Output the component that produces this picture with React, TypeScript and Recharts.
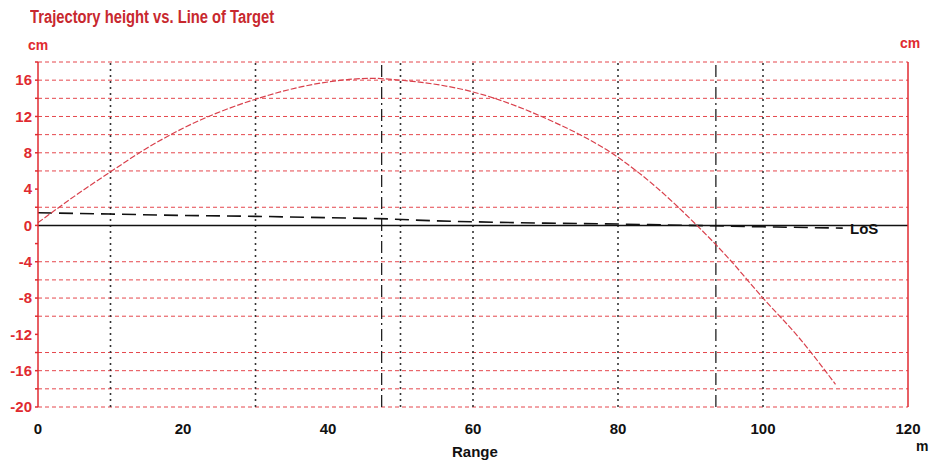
import { ComposedChart, Line, XAxis, YAxis, ReferenceLine } from "recharts";

// trajectory height (cm) against range (m)
const trajRange = [0, 5, 10, 15, 20, 30, 40, 46, 50, 60, 70, 80, 85, 90, 95, 100, 105, 110];
const trajHeight = [0.3, 3.2, 5.9, 8.5, 10.7, 13.9, 15.8, 16.2, 16.0, 14.7, 11.8, 7.5, 4.4, 0.7, -3.4, -8.0, -12.4, -17.5];

// black dashed line just above the line of sight
const dashRange = [0, 10, 20, 30, 40, 47, 55, 60, 70, 80, 90, 100, 111];
const dashHeight = [1.4, 1.25, 1.1, 1.0, 0.85, 0.75, 0.5, 0.4, 0.25, 0.15, 0.0, -0.15, -0.3];

const xTicks = [0, 20, 40, 60, 80, 100, 120];
const yTicks = [-20, -18, -16, -14, -12, -10, -8, -6, -4, -2, 0, 2, 4, 6, 8, 10, 12, 14, 16, 18];
const redGridLevels = [18, 16, 14, 12, 10, 8, 6, 2, -4, -6, -8, -10, -14, -16, -18, -20];
const dottedRanges = [10, 30, 50, 60, 80, 100];
const dashDotRanges = [47.4, 93.5];

const trajData = trajRange.map((r, i) => ({ range: r, h: trajHeight[i] }));
const dashData = dashRange.map((r, i) => ({ range: r, h: dashHeight[i] }));

const FONT = '"Liberation Sans", Arial, sans-serif';
const RED = "#e02a30";

const yLabel = (v: number) => (v % 4 === 0 ? String(v) : "");

const txt = (extra: React.CSSProperties): React.CSSProperties => ({
    position: "absolute",
    fontFamily: FONT,
    fontWeight: 700,
    lineHeight: 1,
    whiteSpace: "nowrap",
    ...extra,
});

export default function App() {
    return (
        <div style={{ position: "absolute", left: 0, top: 0, width: 939, height: 464, background: "#fff" }}>
            <ComposedChart
                width={939}
                height={464}
                margin={{ top: 62, right: 0, bottom: 0, left: 0 }}
            >
                <XAxis
                    dataKey="range"
                    type="number"
                    domain={[0, 120]}
                    ticks={xTicks}
                    interval={0}
                    axisLine={false}
                    tickLine={false}
                    tickSize={0}
                    tickMargin={16}
                    height={57}
                    tick={{ fill: "#111", fontSize: 15, fontFamily: FONT, fontWeight: 700 }}
                    allowDuplicatedCategory={false}
                />
                <YAxis
                    yAxisId="left"
                    type="number"
                    domain={[-20, 18]}
                    ticks={yTicks}
                    interval={0}
                    width={38}
                    stroke={RED}
                    strokeWidth={1.5}
                    tickSize={3}
                    tickMargin={3}
                    tickFormatter={yLabel}
                    tick={{ fill: RED, fontSize: 15, fontFamily: FONT, fontWeight: 700 }}
                />
                <YAxis
                    yAxisId="right"
                    orientation="right"
                    type="number"
                    domain={[-20, 18]}
                    ticks={yTicks}
                    interval={0}
                    width={31}
                    stroke={RED}
                    strokeWidth={1.5}
                    tickSize={3}
                    tickMargin={2}
                    tickFormatter={yLabel}
                    tick={{ fill: RED, fontSize: 15, fontFamily: FONT, fontWeight: 700 }}
                />
                {redGridLevels.map((v) => (
                    <ReferenceLine
                        key={"g" + v}
                        yAxisId="left"
                        y={v}
                        stroke="#e5474d"
                        strokeWidth={1}
                        strokeDasharray="4 3"
                    />
                ))}
                {dottedRanges.map((r) => (
                    <ReferenceLine
                        key={"d" + r}
                        yAxisId="left"
                        x={r}
                        stroke="#333"
                        strokeWidth={1.6}
                        strokeDasharray="2 4"
                    />
                ))}
                {dashDotRanges.map((r) => (
                    <ReferenceLine
                        key={"dd" + r}
                        yAxisId="left"
                        x={r}
                        stroke="#222"
                        strokeWidth={1.3}
                        strokeDasharray="12 4 2 4"
                    />
                ))}
                <ReferenceLine yAxisId="left" y={0} stroke="#111" strokeWidth={1.5} />
                <Line
                    yAxisId="left"
                    data={dashData}
                    dataKey="h"
                    type="monotone"
                    stroke="#111"
                    strokeWidth={1.6}
                    strokeDasharray="14 7"
                    dot={false}
                    isAnimationActive={false}
                />
                <Line
                    yAxisId="left"
                    data={trajData}
                    dataKey="h"
                    type="monotone"
                    stroke="#d9404c"
                    strokeWidth={1.2}
                    strokeDasharray="6 2"
                    dot={false}
                    isAnimationActive={false}
                />
            </ComposedChart>
            <div
                style={txt({
                    left: 30,
                    top: 8,
                    fontSize: 18,
                    color: "#c8282e",
                    transform: "scaleX(0.82)",
                    transformOrigin: "left center",
                })}
            >
                Trajectory height vs. Line of Target
            </div>
            <div style={txt({ left: 28, top: 38, fontSize: 14, color: RED })}>cm</div>
            <div style={txt({ left: 900, top: 36, fontSize: 14, color: RED })}>cm</div>
            <div style={txt({ left: 850, top: 221, fontSize: 15, color: "#111" })}>LoS</div>
            <div style={txt({ left: 452, top: 444, fontSize: 15, color: "#111" })}>Range</div>
            <div style={txt({ left: 916, top: 439, fontSize: 14, color: "#111" })}>m</div>
        </div>
    );
}
